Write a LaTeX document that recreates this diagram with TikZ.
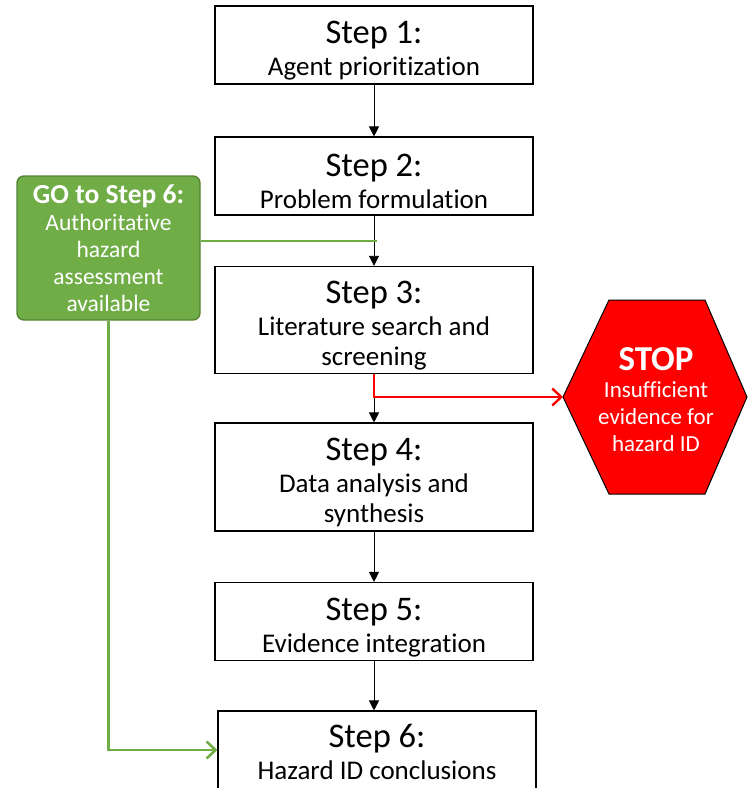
\documentclass[tikz,border=0pt]{standalone}
\usepackage{fontspec}
\setmainfont{Carlito}[Ligatures=NoCommon]
\usetikzlibrary{arrows.meta}
\definecolor{gofill}{HTML}{70AD47}
\definecolor{godraw}{HTML}{548235}
\newcommand\stephead[2][34pt]{{\fontsize{34.5}{40}\selectfont\rule{0pt}{#1}Step #2:}\\[2pt]}
\begin{document}
\begin{tikzpicture}[x=1pt,y=-1pt,
    stepbox/.style={draw,line width=1.1pt,minimum width=318pt,align=center,
      font=\fontsize{27}{30}\selectfont},
    goarrow/.style={gofill,line width=2.6pt,-{Straight Barb[length=9pt,width=17pt]}},
    stoparrow/.style={red,line width=2.4pt,-{Straight Barb[length=9pt,width=17pt]}},
    flow/.style={line width=0.9pt,-{Triangle[length=10pt,width=10pt]}}]
  \useasboundingbox (0,0) rectangle (748,788);
  \node[stepbox,minimum height=78pt] (s1) at (374,45)
    {\stephead{1} Agent prioritization};
  \node[stepbox,minimum height=78pt] (s2) at (374,176)
    {\stephead{2} Problem formulation};
  \node[stepbox,minimum height=106pt] (s3) at (374,320)
    {\stephead{3} Literature search and\\ screening};
  \node[stepbox,minimum height=108pt] (s4) at (374,477)
    {\stephead{4} Data analysis and\\ synthesis};
  \node[stepbox,minimum height=78pt] (s5) at (374,621.5)
    {\stephead{5} Evidence integration};
  \node[stepbox,minimum height=78pt] (s6) at (377,750)
    {\stephead[27pt]{6} Hazard ID conclusions};
  \node[draw=godraw,fill=gofill,line width=1.4pt,rounded corners=7pt,text=white,
        minimum width=183pt,minimum height=144pt,align=center,
        font=\fontsize{23.5}{27}\selectfont] (go) at (108.5,248)
    {{\bfseries\fontsize{27.5}{27}\selectfont GO to Step 6:}\\ Authoritative\\ hazard\\ assessment\\ available};
  \draw[fill=red,line width=1pt] (563,397) -- (609,300) -- (705,300) -- (747,397)
                                  -- (705,494) -- (609,494) -- cycle;
  \node[text=white,align=center,font=\fontsize{23}{27}\selectfont] (stop) at (656,400)
    {{\bfseries\fontsize{35}{33}\selectfont STOP}\\ Insufficient\\ evidence for\\ hazard ID};
  \coordinate (stopw) at (563,397);
  \coordinate (gj) at (377,241);
  \draw[flow] (s1) -- (s2);
  \draw[flow] (s2) -- (s3);
  \draw[flow] (s3) -- (s4);
  \draw[flow] (s4) -- (s5);
  \draw[flow] (s5.south) -- (s5.south |- s6.north);
  \draw[gofill,line width=2.6pt] (go.east |- gj) -- (gj);
  \draw[goarrow] (go.south) -- (go.south |- s6.west) -- (s6.west);
  \draw[stoparrow] (s3.south) -- (s3.south |- stopw) -- (stopw);
\end{tikzpicture}
\end{document}
